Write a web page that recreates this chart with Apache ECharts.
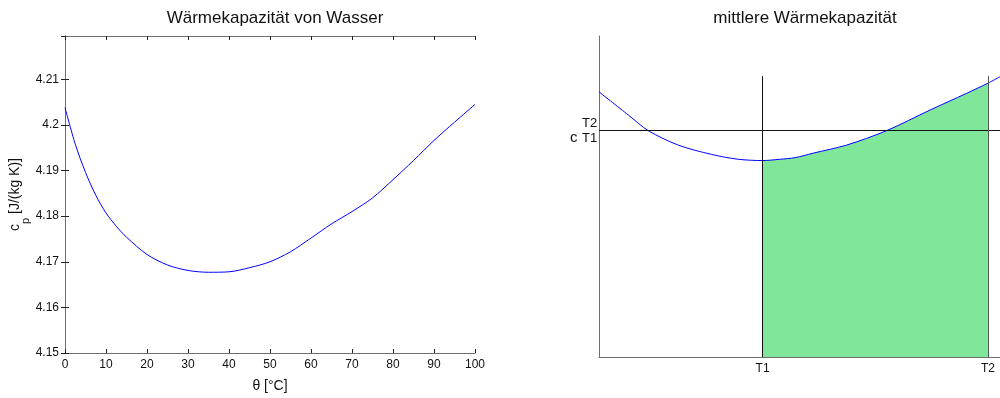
<!DOCTYPE html>
<html>
<head>
<meta charset="utf-8">
<script src="https://cdn.jsdelivr.net/npm/echarts@6/dist/echarts.min.js"></script>
<style>
  html, body { margin: 0; padding: 0; background: #fff; }
  #main { width: 1000px; height: 398px; }
</style>
</head>
<body>
<div id="main"></div>
<script>
// linkes Diagramm: Wärmekapazität von Wasser
const tempC = [0, 2.5, 5, 7.5, 10, 12.5, 15, 20, 25, 30, 35, 40, 45, 50, 55, 60, 65, 70, 75, 80, 85, 90, 95, 100];
const cpWater = [4.2038, 4.1958, 4.1896, 4.1846, 4.1807, 4.1778, 4.1754, 4.1716, 4.1693, 4.1681, 4.1677, 4.1678,
                 4.1687, 4.1700, 4.1722, 4.1752, 4.1783, 4.1810, 4.1840, 4.1880, 4.1922, 4.1966, 4.2006, 4.2045];

// rechtes Diagramm: mittlere Wärmekapazität (Schema, ohne Skala)
const T1 = 40.8;
const T2 = 97.0;
const schemeX = [0, 7.3, 12.3, 19.8, 28.1, 34.7, 40.8, 45.1, 48.9, 53.4, 61.7, 71.7, 82.5, 91.6, 97.0, 100];
const schemeY = [82.6, 75.4, 70.5, 66.0, 63.1, 61.6, 61.2, 61.6, 62.1, 63.5, 66.0, 70.5, 76.9, 82.1, 85.3, 87.3];
const cMean = 70.5;
const lineTop = 87.5;
const tickNames = ['T1', 'T2'];

const font = "'Liberation Sans', Arial, sans-serif";
const axisGray = '#6e6e6e';

const chart = echarts.init(document.getElementById('main'));

const leftData = tempC.map((t, i) => [t, cpWater[i]]);
const schemeData = schemeX.map((x, i) => [x, schemeY[i]]);
const fillData = schemeData.filter(p => p[0] >= T1 && p[0] <= T2);

const boxTick = { show: true, inside: true, length: 4, lineStyle: { color: '#222' } };

const option = {
  animation: false,
  textStyle: { fontFamily: font },
  title: [
    { text: 'Wärmekapazität von Wasser', left: 270, top: 5, textAlign: 'center',
      textStyle: { fontSize: 17, fontWeight: 'normal', color: '#111', fontFamily: font } },
    { text: 'mittlere Wärmekapazität', left: 800, top: 5, textAlign: 'center',
      textStyle: { fontSize: 17, fontWeight: 'normal', color: '#111', fontFamily: font } }
  ],
  grid: [
    { left: 65, top: 36, width: 410, height: 321 },
    { left: 599, top: 36, width: 401, height: 321 }
  ],
  xAxis: [
    {
      gridIndex: 0, type: 'value', min: 0, max: 100, interval: 10,
      axisLine: { lineStyle: { color: axisGray } },
      axisTick: boxTick,
      axisLabel: { color: '#111', fontSize: 12, margin: 6, fontFamily: font },
      splitLine: { show: false },
      name: 'θ [°C]', nameLocation: 'middle', nameGap: 26,
      nameTextStyle: { color: '#111', fontSize: 14, fontFamily: font }
    },
    {
      gridIndex: 0, type: 'value', min: 0, max: 100, interval: 10, position: 'top',
      axisLine: { lineStyle: { color: axisGray } },
      axisTick: boxTick, axisLabel: { show: false }, splitLine: { show: false }
    },
    {
      gridIndex: 1, type: 'value', min: 0, max: 100,
      axisLine: { lineStyle: { color: axisGray } },
      axisTick: { show: false },
      axisLabel: {
        color: '#111', fontSize: 12, margin: 6, fontFamily: font,
        customValues: [T1, T2],
        formatter: v => (v === T1 ? tickNames[0] : tickNames[1])
      },
      splitLine: { show: false }
    }
  ],
  yAxis: [
    {
      gridIndex: 0, type: 'value', min: 4.15, max: 4.2195, interval: 0.01,
      axisLine: { show: true, lineStyle: { color: axisGray } },
      axisTick: boxTick,
      axisLabel: { color: '#111', fontSize: 12, margin: 6, showMaxLabel: false, fontFamily: font,
        formatter: v => String(Math.round(v * 100) / 100) },
      splitLine: { show: false },
      name: '{c|c}{p|p}{c| [J/(kg K)]}', nameLocation: 'middle', nameGap: 30, nameRotate: 90,
      nameTextStyle: {
        color: '#111', fontFamily: font,
        rich: {
          c: { fontSize: 14, fontFamily: font, color: '#111', lineHeight: 16, verticalAlign: 'top' },
          p: { fontSize: 11, fontFamily: font, color: '#111', lineHeight: 24, verticalAlign: 'bottom' }
        }
      }
    },
    {
      gridIndex: 0, type: 'value', min: 4.15, max: 4.2195, interval: 0.01, position: 'right',
      axisLine: { show: true, lineStyle: { color: axisGray } },
      axisTick: boxTick, axisLabel: { show: false }, splitLine: { show: false }
    },
    {
      gridIndex: 1, type: 'value', min: 0, max: 100,
      axisLine: { show: true, lineStyle: { color: axisGray } },
      axisTick: { show: false }, axisLabel: { show: false }, splitLine: { show: false }
    }
  ],
  series: [
    {
      type: 'line', xAxisIndex: 0, yAxisIndex: 0, data: leftData,
      showSymbol: false, symbol: 'none', smooth: 0.3,
      lineStyle: { color: '#0000ff', width: 1 }
    },
    {
      type: 'line', xAxisIndex: 2, yAxisIndex: 2, data: fillData,
      showSymbol: false, symbol: 'none', smooth: 0.3, z: 1,
      lineStyle: { width: 0 },
      areaStyle: { color: '#80e699', opacity: 1, origin: 'start' }
    },
    {
      type: 'line', xAxisIndex: 2, yAxisIndex: 2, data: schemeData,
      showSymbol: false, symbol: 'none', smooth: 0.3, z: 3,
      lineStyle: { color: '#0000ff', width: 1 },
      markLine: {
        silent: true, symbol: ['none', 'none'], label: { show: false },
        lineStyle: { color: '#111', type: 'solid', width: 1 },
        data: [
          { yAxis: cMean },
          [{ coord: [T1, 0] }, { coord: [T1, lineTop] }],
          [{ coord: [T2, 0], lineStyle: { color: '#555' } }, { coord: [T2, lineTop] }]
        ]
      }
    }
  ]
};

chart.setOption(option);

// Beschriftung c_T1^T2 links neben der Mittelwert-Linie
const p = chart.convertToPixel({ xAxisIndex: 2, yAxisIndex: 2 }, [0, cMean]);
chart.setOption({
  graphic: [
    { type: 'text', x: p[0] - 29, y: p[1] + 7, style: { text: 'c', font: '15px ' + font, fill: '#111', textVerticalAlign: 'middle' } },
    { type: 'text', x: p[0] - 17, y: p[1] - 7, style: { text: 'T2', font: '13px ' + font, fill: '#111', textVerticalAlign: 'middle' } },
    { type: 'text', x: p[0] - 17, y: p[1] + 8, style: { text: 'T1', font: '13px ' + font, fill: '#111', textVerticalAlign: 'middle' } }
  ]
});
</script>
</body>
</html>
